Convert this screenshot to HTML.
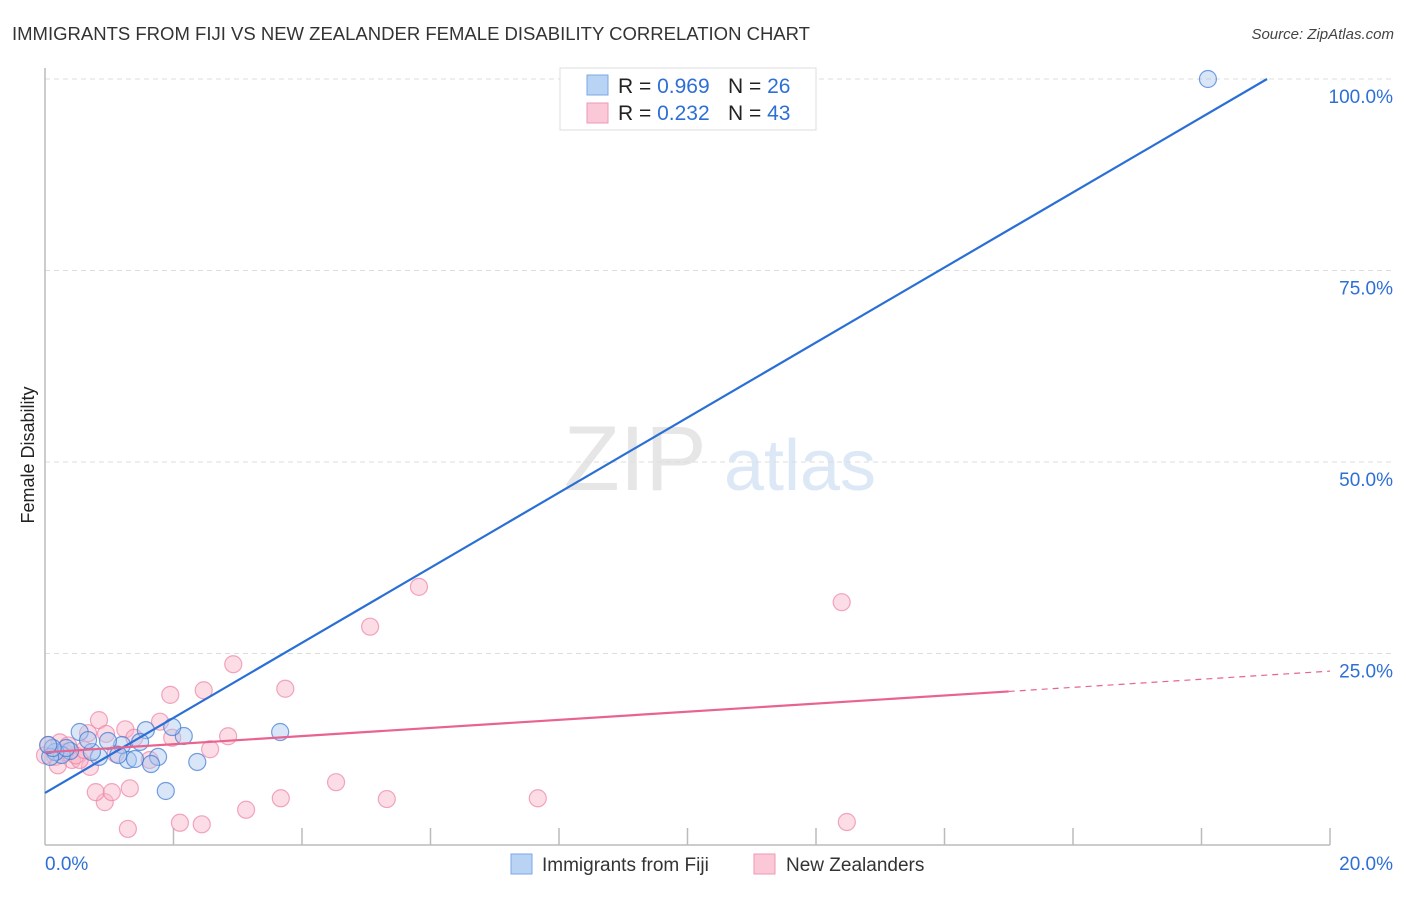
<!DOCTYPE html>
<html><head><meta charset="utf-8"><style>
body{margin:0;background:#fff;font-family:"Liberation Sans",sans-serif;}
svg text{font-family:"Liberation Sans",sans-serif;}
</style></head><body>
<svg id="chart" width="1406" height="892" xmlns="http://www.w3.org/2000/svg">
<text x="12" y="40" font-size="18" fill="#333" textLength="798" lengthAdjust="spacingAndGlyphs">IMMIGRANTS FROM FIJI VS NEW ZEALANDER FEMALE DISABILITY CORRELATION CHART</text>
<text x="1394" y="39" font-size="15" fill="#444" font-style="italic" text-anchor="end">Source: ZipAtlas.com</text>
<g><text x="635" y="490" font-size="92" fill="#e6e6e6" font-family="Liberation Serif" text-anchor="middle">ZIP</text><text x="800" y="490" font-size="72" fill="#dce8f6" text-anchor="middle">atlas</text></g>
<g id="grid"></g>
<g id="axes"></g>
<g id="marks"></g>
<text transform="translate(34,455) rotate(-90)" font-size="18" fill="#222" text-anchor="middle">Female Disability</text>
<g>
<rect x="560" y="68" width="256" height="62" fill="#fff" stroke="#ddd"/>
<rect x="587" y="75" width="21" height="20" fill="#b9d3f5" stroke="#7aa7e6"/>
<rect x="587" y="103" width="21" height="20" fill="#fac8d6" stroke="#ef9ab4"/>
<text x="618" y="93" font-size="21" fill="#222">R = <tspan fill="#2e6fd6">0.969</tspan><tspan x="728">N = </tspan><tspan fill="#2e6fd6">26</tspan></text>
<text x="618" y="120" font-size="21" fill="#222">R = <tspan fill="#2e6fd6">0.232</tspan><tspan x="728">N = </tspan><tspan fill="#2e6fd6">43</tspan></text>
</g>
<g>
<rect x="511" y="854" width="21" height="20" fill="#b9d3f5" stroke="#7aa7e6"/>
<text x="542" y="871" font-size="19" fill="#333">Immigrants from Fiji</text>
<rect x="754" y="854" width="21" height="20" fill="#fac8d6" stroke="#ef9ab4"/>
<text x="786" y="871" font-size="19" fill="#333">New Zealanders</text>
</g>
</svg>
<script>
const yTicks=[25,50,75,100];
const yTickLabels=["25.0%","50.0%","75.0%","100.0%"];
const xLabels=["0.0%","20.0%"];
const fijiX=[18.1,3.66,1.88,2.37,2.16,1.98,1.57,1.76,1.65,1.48,1.29,1.2,0.98,0.84,0.73,0.54,0.39,0.26,0.16,0.08,0.33,1.4,1.14,0.67,0.12,0.05];
const fijiY=[100,14.75,7.05,10.84,14.23,15.4,15.0,11.5,10.57,13.45,11.1,13.05,13.58,11.5,12.14,14.75,12.27,11.75,12.14,11.5,12.66,11.23,11.75,13.7,12.66,13.05];
const nzX=[5.82,12.4,5.06,2.93,3.74,2.47,1.95,0.84,1.79,1.25,2.85,1.98,1.39,0.95,0.67,0.23,2.57,1.1,0.05,0.16,0.42,0.7,0.54,4.53,3.67,5.32,7.67,3.13,2.1,2.44,1.29,12.48,0.93,0.79,1.04,1.32,0.31,0.0,0.48,1.63,0.2,0.61,0.36];
const nzY=[33.7,31.7,28.5,23.6,20.4,20.2,19.6,16.3,16.1,15.1,14.2,14.0,14.0,14.5,14.6,13.4,12.5,11.9,13.05,11.5,11.1,10.2,11.1,8.2,6.1,6.0,6.1,4.6,2.9,2.7,2.1,3.0,5.6,6.9,6.9,7.4,12.1,11.7,11.7,11.1,10.4,12.4,13.0];
const fijiTrend=[6.8,4.9];   // intercept, slope
const nzTrend=[12.1,0.53];
const NS="http://www.w3.org/2000/svg";
const sx=v=>45+v*64.25, sy=v=>845-v*7.66;
function mk(tag,attrs,parent){const e=document.createElementNS(NS,tag);for(const k in attrs)e.setAttribute(k,attrs[k]);parent.appendChild(e);return e;}
const grid=document.getElementById('grid'),axes=document.getElementById('axes'),marks=document.getElementById('marks');
yTicks.forEach((t,i)=>{
 const l=mk('line',{x1:45,x2:1394,y1:sy(t),y2:sy(t),stroke:'#ddd','stroke-dasharray':'5,4'},grid);
 
 
 const tx=mk('text',{x:1393,y:sy(t)+24,'font-size':19,fill:'#2e6fd6','text-anchor':'end'},axes);
 tx.textContent=yTickLabels[i];
 
 
});
mk('line',{x1:45,x2:45,y1:68,y2:845,stroke:'#bbb','stroke-width':1.5},axes);
mk('line',{x1:45,x2:1330,y1:845,y2:845,stroke:'#bbb','stroke-width':1.5},axes);
for(let v=2;v<=20;v+=2){const l=mk('line',{x1:sx(v),x2:sx(v),y1:828,y2:845,stroke:'#bbb','stroke-width':1.5},axes);
 
 }
const xl0=mk('text',{x:45,y:870,'font-size':19,fill:'#2e6fd6'},axes);xl0.textContent=xLabels[0];


const xl1=mk('text',{x:1393,y:870,'font-size':19,fill:'#2e6fd6','text-anchor':'end'},axes);xl1.textContent=xLabels[1];


nzX.forEach((x,i)=>{const c=mk('circle',{cx:sx(x),cy:sy(nzY[i]),r:8.5,fill:'rgba(248,180,200,0.45)',stroke:'rgba(236,130,165,0.7)','stroke-width':1.2},marks);
 
 });
fijiX.forEach((x,i)=>{const c=mk('circle',{cx:sx(x),cy:sy(fijiY[i]),r:8.5,fill:'rgba(170,200,240,0.45)',stroke:'rgba(60,120,210,0.7)','stroke-width':1.2},marks);
 
 });
const fEnd=(100-fijiTrend[0])/fijiTrend[1];
const fl=mk('line',{x1:sx(0),y1:sy(fijiTrend[0]),x2:sx(fEnd),y2:sy(100),stroke:'#2a6fd6','stroke-width':2.2},marks);


const nl=mk('line',{x1:sx(0),y1:sy(nzTrend[0]),x2:sx(15),y2:sy(nzTrend[0]+15*nzTrend[1]),stroke:'#e8648e','stroke-width':2.2},marks);


const nd=mk('line',{x1:sx(15),y1:sy(nzTrend[0]+15*nzTrend[1]),x2:sx(20),y2:sy(nzTrend[0]+20*nzTrend[1]),stroke:'#e8648e','stroke-width':1.2,'stroke-dasharray':'6,5'},marks);


</script>
</body></html>
